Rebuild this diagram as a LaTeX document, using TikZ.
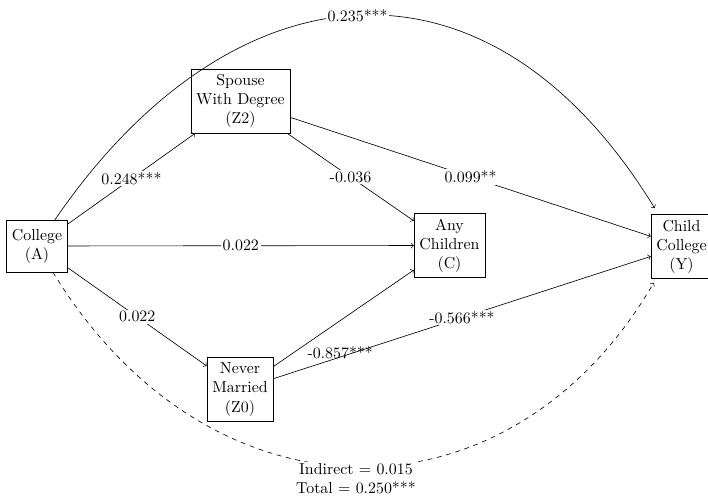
\documentclass[tikz,border=0pt]{standalone}
\usetikzlibrary{calc}
\begin{document}
\begin{tikzpicture}[x=0.629pt,y=-0.629pt,
  box/.style={draw, align=center, inner sep=3.33pt},
  lab/.style={fill=white, inner sep=1pt},
  >=to]
\useasboundingbox (0,0) rectangle (708,500);
\node[box, minimum height=32.5pt] (A) at (37,246) {College\\(A)};
\node[box] (Z2) at (240.5,101) {Spouse\\With Degree\\(Z2)};
\node[box] (C) at (449.5,245.5) {Any\\Children\\(C)};
\node[box] (Y) at (681.5,246.5) {Child\\College\\(Y)};
\node[box] (Z0) at (240,389.5) {Never\\Married\\(Z0)};
\coordinate (Ytop) at ($(Y.north west)+(4,-6)$);
\coordinate (Ybot) at ($(Y.south west)+(3,4)$);
\draw[->] (A) -- node[lab] (lAZ2) {0.248***} (Z2);
\draw[->] (A) -- node[lab] (lAC) {0.022} (C);
\draw[->] (A) -- node[lab] (lAZ0) {0.022} (Z0);
\draw[->] (Z2) -- node[lab] (lZ2C) {-0.036} (C);
\draw[->] (Z2) -- node[lab] (lZ2Y) {0.099**} (Y);
\draw[->] (Z0) -- node[pos=0.23, anchor=north west, inner sep=1pt] (lZ0C) {-0.857***} (C);
\draw[->] (Z0) -- node[lab] (lZ0Y) {-0.566***} (Y);
\draw[->] (A) .. controls (230,-36) and (487,-66) .. node[lab, pos=0.5] (lAY) {0.235***} (Ytop);
\draw[->, dashed] (A) .. controls (210,530) and (510,530) .. (Ybot);
\node[lab, align=center] (lind) at (356,479) {Indirect = 0.015\\Total = 0.250***};
\end{tikzpicture}
\end{document}
